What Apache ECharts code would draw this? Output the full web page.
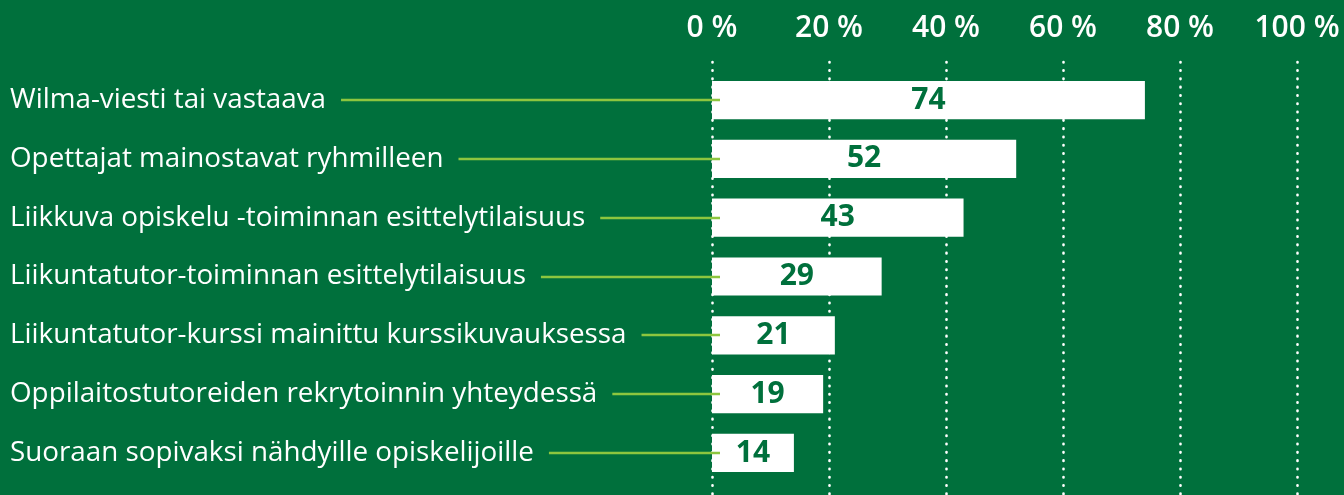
<!DOCTYPE html>
<html><head><meta charset="utf-8">
<script src="https://cdn.jsdelivr.net/npm/echarts@6/dist/echarts.min.js"></script>
<style>html,body{margin:0;padding:0;background:#00703C;}#c{width:1344px;height:495px;}</style>
</head><body><div id="c"></div>
<script>
const categories = [
  "Wilma-viesti tai vastaava",
  "Opettajat mainostavat ryhmilleen",
  "Liikkuva opiskelu -toiminnan esittelytilaisuus",
  "Liikuntatutor-toiminnan esittelytilaisuus",
  "Liikuntatutor-kurssi mainittu kurssikuvauksessa",
  "Oppilaitostutoreiden rekrytoinnin yhteydessä",
  "Suoraan sopivaksi nähdyille opiskelijoille"
];
const values = [74, 52, 43, 29, 21, 19, 14];
const tickValues = [0, 20, 40, 60, 80, 100];

const BG = '#00703C', LEAF = '#8DC63F', FONT = 'Open Sans';
const catFont = 27.8, tickFont = 30, valFont = 30;
const gl = 712, gr = 1344 - 1297;

const chart = echarts.init(document.getElementById('c'), null, {renderer: 'canvas'});
chart.setOption({
  backgroundColor: BG,
  animation: false,
  grid: [
    {left: gl, right: gr, top: 70.6, bottom: 12.6},
    {left: gl, right: gr, top: 62, bottom: 0}
  ],
  xAxis: [
    {gridIndex: 0, type: 'value', position: 'top', min: 0, max: 100, interval: 20,
     axisLine: {show: false}, axisTick: {show: false}, splitLine: {show: false},
     axisLabel: {color: '#fff', fontFamily: FONT, fontWeight: 600, fontSize: tickFont, margin: 27,
       formatter: v => tickValues.includes(v) ? v + ' %' : ''}},
    {gridIndex: 1, type: 'value', min: 0, max: 100, interval: 20,
     axisLine: {show: false}, axisTick: {show: false}, axisLabel: {show: false},
     splitLine: {show: true, lineStyle: {color: '#fff', type: [0.5, 7.8], width: 2.6, cap: 'round'}}}
  ],
  yAxis: [
    {gridIndex: 0, type: 'category', data: categories, inverse: true,
     axisLine: {show: false}, axisTick: {show: false},
     axisLabel: {color: '#fff', fontFamily: FONT, fontSize: catFont, align: 'left', margin: gl - 10}},
    {gridIndex: 1, type: 'category', data: [''], show: false}
  ],
  series: [{
    type: 'bar', xAxisIndex: 0, yAxisIndex: 0, data: values, barCategoryGap: '35%',
    itemStyle: {color: '#fff'}, z: 3,
    label: {show: true, position: 'inside', color: '#00703C', fontFamily: FONT, fontWeight: 'bold', fontSize: valFont}
  }]
});

const ctx = document.createElement('canvas').getContext('2d');
ctx.font = catFont + 'px "' + FONT + '"';
const x0 = chart.convertToPixel({xAxisIndex: 0}, 0);
const lines = categories.map((c, i) => {
  const y = Math.round(chart.convertToPixel({yAxisIndex: 0}, i));
  const x1 = 10 + ctx.measureText(c).width + 15;
  return {type: 'line', z: 100, shape: {x1: x1, y1: y, x2: x0 + 8, y2: y},
          style: {stroke: LEAF, lineWidth: 2.5}};
});
chart.setOption({graphic: lines});
</script></body></html>
